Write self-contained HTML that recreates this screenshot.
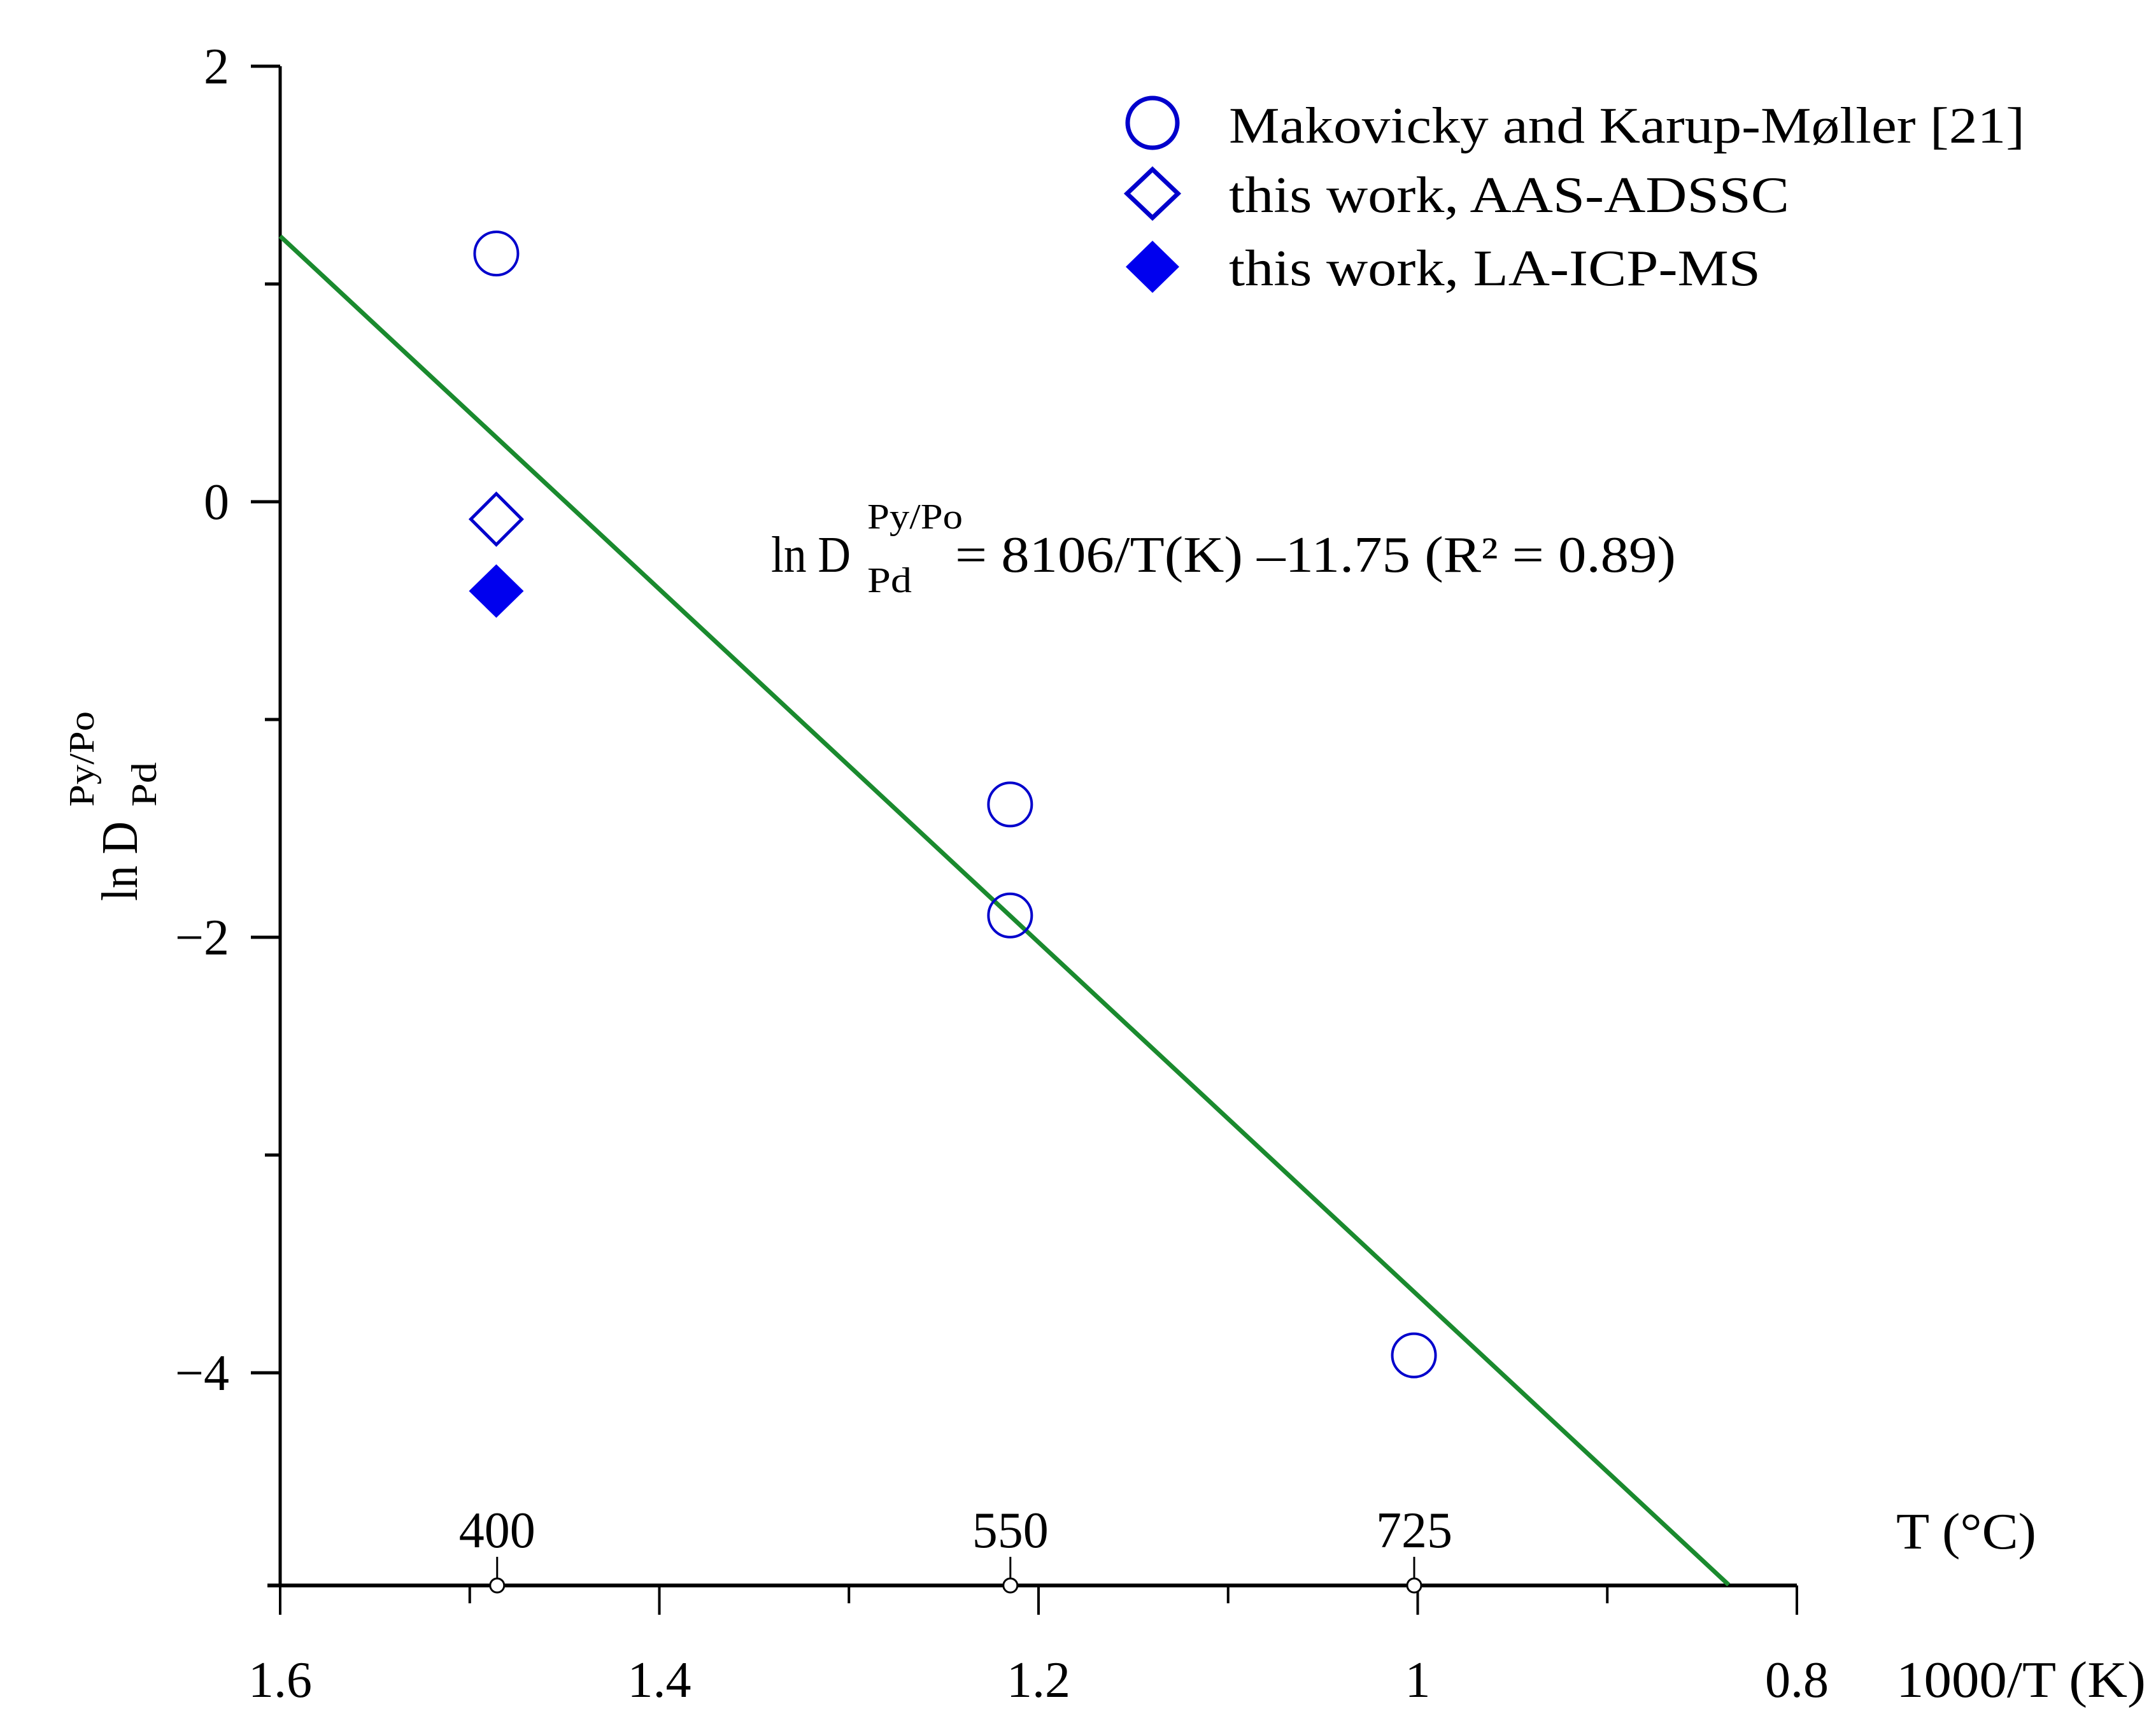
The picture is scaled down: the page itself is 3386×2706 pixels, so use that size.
<!DOCTYPE html>
<html><head><meta charset="utf-8"><style>
html,body{margin:0;padding:0;background:#fff;}
svg{display:block;font-family:"Liberation Serif",serif;}
</style></head><body>
<svg id="chart" width="3386" height="2706" viewBox="0 0 3386 2706" xmlns="http://www.w3.org/2000/svg">
<g id="axes"></g>
<g id="marks"></g>
<g>
  <circle cx="1810" cy="193" r="39" fill="none" stroke="#0000cc" stroke-width="7"/>
  <text x="1930" y="224" font-size="80" textLength="1250" lengthAdjust="spacingAndGlyphs">Makovicky and Karup-Møller  [21]</text>
  <path d="M1810 266 L1850 304 L1810 342 L1770 304 Z" fill="none" stroke="#0000cc" stroke-width="7"/>
  <text x="1930" y="333" font-size="80" textLength="880" lengthAdjust="spacingAndGlyphs">this work,  AAS-ADSSC</text>
  <path d="M1810 378 L1852 419 L1810 460 L1768 419 Z" fill="#0000ee"/>
  <text x="1930" y="448" font-size="80" textLength="835" lengthAdjust="spacingAndGlyphs">this work,  LA-ICP-MS</text>
</g>
<g font-size="80">
  <text x="1211" y="898" textLength="125" lengthAdjust="spacingAndGlyphs">ln D</text>
  <text x="1362" y="830" font-size="56" textLength="150" lengthAdjust="spacingAndGlyphs">Py/Po</text>
  <text x="1362" y="930" font-size="56" textLength="70" lengthAdjust="spacingAndGlyphs">Pd</text>
  <text x="1500" y="898" textLength="1132" lengthAdjust="spacingAndGlyphs">= 8106/T(K) –11.75 (R² = 0.89)</text>
</g>
<g transform="translate(215,1415) rotate(-90)" font-size="80">
  <text x="0" y="0" textLength="125" lengthAdjust="spacingAndGlyphs">ln D</text>
  <text x="148" y="-68" font-size="56" textLength="150" lengthAdjust="spacingAndGlyphs">Py/Po</text>
  <text x="148" y="30" font-size="56" textLength="70" lengthAdjust="spacingAndGlyphs">Pd</text>
</g>
<text x="2978" y="2432" font-size="80" textLength="220" lengthAdjust="spacingAndGlyphs">T (°C)</text>
<text x="2978" y="2665" font-size="80" textLength="392" lengthAdjust="spacingAndGlyphs">1000/T (K)</text>
<script>
const yTicks=[2,0,-2,-4];
const yMinor=[1,-1,-3];
const xTicks=[1.6,1.4,1.2,1,0.8];
const xTickLabels=["1.6","1.4","1.2","1","0.8"];
const xMinor=[1.5,1.3,1.1,0.9];
const tempC=[400,550,725];
const makX=[1.486,1.215,1.215,1.002];
const makY=[1.14,-1.39,-1.9,-3.92];
const aasX=[1.486]; const aasY=[-0.08];
const laX=[1.486]; const laY=[-0.41];
const fitSlope=8.106, fitIntercept=-11.75;
const fitRange=[1.6,0.836];

const X0=440,X1=2822,Y0=788,PY=342,AXY=2490;
const sx=v=>X0+(1.6-v)/0.8*(X1-X0);
const sy=v=>Y0-v*PY;
const NS="http://www.w3.org/2000/svg";
function mk(parent,tag,attrs){const e=document.createElementNS(NS,tag);for(const k in attrs)e.setAttribute(k,attrs[k]);parent.appendChild(e);return e;}
const axes=document.getElementById('axes'), marks=document.getElementById('marks');
let e;
e=mk(axes,'line',{x1:X0,y1:sy(2),x2:X0,y2:AXY,stroke:'#000','stroke-width':5});


e=mk(axes,'line',{x1:X0-20,y1:AXY,x2:X1,y2:AXY,stroke:'#000','stroke-width':6});


yTicks.forEach(v=>{
  e=mk(axes,'line',{x1:X0-46,y1:sy(v),x2:X0,y2:sy(v),stroke:'#000','stroke-width':5});
  
  
  e=mk(axes,'text',{x:X0-80,y:sy(v)+27,'font-size':80,'text-anchor':'end'});
  e.textContent=v<0?'−'+Math.abs(v):String(v);
  
  
});
yMinor.forEach(v=>{
  e=mk(axes,'line',{x1:X0-24,y1:sy(v),x2:X0,y2:sy(v),stroke:'#000','stroke-width':5});
  
  
});
xTicks.forEach((v,i)=>{
  e=mk(axes,'line',{x1:sx(v),y1:AXY,x2:sx(v),y2:AXY+46,stroke:'#000','stroke-width':4});
  
  
  e=mk(axes,'text',{x:sx(v),y:2665,'font-size':80,'text-anchor':'middle'});
  e.textContent=xTickLabels[i];
  
  
});
xMinor.forEach(v=>{
  e=mk(axes,'line',{x1:sx(v),y1:AXY,x2:sx(v),y2:AXY+28,stroke:'#000','stroke-width':4});
  
  
});
tempC.forEach(t=>{
  const x=sx(1000/(t+273.15));
  e=mk(axes,'line',{x1:x,y1:AXY-45,x2:x,y2:AXY-12,stroke:'#000','stroke-width':3});
  
  
  e=mk(axes,'circle',{cx:x,cy:AXY,r:11,fill:'#fff',stroke:'#000','stroke-width':3});
  
  
  e=mk(axes,'text',{x:x,y:2430,'font-size':80,'text-anchor':'middle'});
  e.textContent=String(t);
  
  
});
e=mk(marks,'line',{x1:sx(fitRange[0]),y1:sy(fitSlope*fitRange[0]+fitIntercept),x2:sx(fitRange[1]),y2:sy(fitSlope*fitRange[1]+fitIntercept),stroke:'#1a8a2e','stroke-width':7});


makX.forEach((v,i)=>{
  e=mk(marks,'circle',{cx:sx(v),cy:sy(makY[i]),r:34,fill:'none',stroke:'#0000cc','stroke-width':4});
  
  
});
aasX.forEach((v,i)=>{
  const x=sx(v),y=sy(aasY[i]);
  e=mk(marks,'path',{d:`M${x} ${y-40} L${x+40} ${y} L${x} ${y+40} L${x-40} ${y} Z`,fill:'none',stroke:'#0000cc','stroke-width':5});
  
  
});
laX.forEach((v,i)=>{
  const x=sx(v),y=sy(laY[i]);
  e=mk(marks,'path',{d:`M${x} ${y-42} L${x+43} ${y} L${x} ${y+42} L${x-43} ${y} Z`,fill:'#0000ee'});
  
  
});
</script>
</svg>
</body></html>
